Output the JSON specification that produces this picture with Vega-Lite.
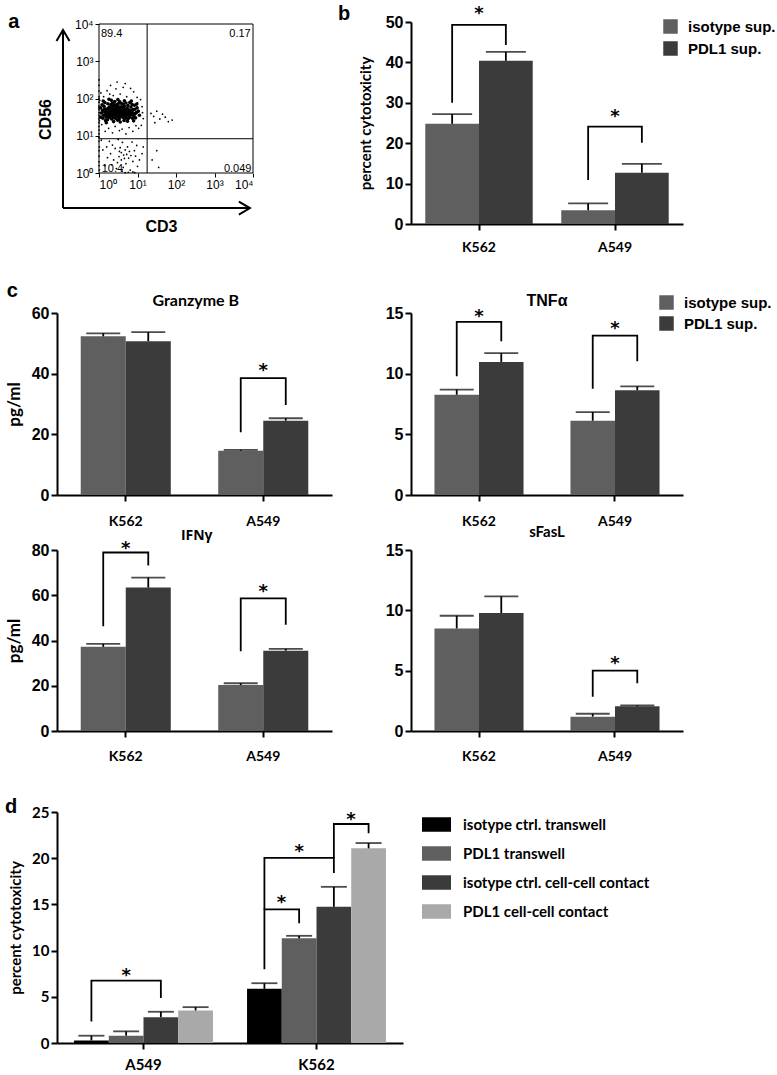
{
 "$schema": "https://vega.github.io/schema/vega-lite/v6.json",
 "background": "white",
 "padding": {"left": 5, "top": 3, "right": 5, "bottom": 5},
 "columns": 2,
 "bounds": "flush",
 "spacing": {"row": 55, "column": 8},
 "resolve": {"scale": {"color": "independent", "xOffset": "independent"}},
 "config": {
  "view": {"stroke": null},
  "axis": {"domainColor": "#000", "domainWidth": 2, "tickColor": "#000", "tickWidth": 2, "tickSize": 6, "labelColor": "#000", "titleColor": "#000", "grid": false, "labelFont": "Liberation Sans", "labelFontWeight": "bold", "labelFontSize": 16, "titleFont": "Lato", "titleFontWeight": "bold", "titleFontSize": 15, "labelPadding": 2},
  "axisX": {"labelFont": "Lato", "labelFontSize": 14, "labelAngle": 0},
  "legend": {"orient": "none", "padding": 0, "labelColor": "#000", "labelFontWeight": "bold", "symbolStrokeWidth": 0, "labelLimit": 400}
 },
 "datasets": {
  "flow_core": [{"x":0.12,"y":1.55},{"x":0.18,"y":1.72},{"x":0.25,"y":1.61},{"x":0.31,"y":1.84},{"x":0.38,"y":1.49},{"x":0.44,"y":1.67},{"x":0.51,"y":1.78},{"x":0.57,"y":1.58},{"x":0.63,"y":1.69},{"x":0.69,"y":1.52},
{"x":0.75,"y":1.81},{"x":0.81,"y":1.63},{"x":0.87,"y":1.47},{"x":0.93,"y":1.71},{"x":0.15,"y":1.89},{"x":0.22,"y":1.43},{"x":0.29,"y":1.66},{"x":0.35,"y":1.57},{"x":0.41,"y":1.92},{"x":0.47,"y":1.51},
{"x":0.53,"y":1.63},{"x":0.59,"y":1.86},{"x":0.65,"y":1.41},{"x":0.71,"y":1.64},{"x":0.77,"y":1.55},{"x":0.83,"y":1.77},{"x":0.89,"y":1.59},{"x":0.97,"y":1.62},{"x":0.09,"y":1.68},{"x":0.2,"y":1.58},
{"x":0.27,"y":1.77},{"x":0.33,"y":1.45},{"x":0.39,"y":1.71},{"x":0.46,"y":1.83},{"x":0.52,"y":1.44},{"x":0.58,"y":1.69},{"x":0.64,"y":1.57},{"x":0.7,"y":1.88},{"x":0.76,"y":1.46},{"x":0.82,"y":1.68},
{"x":0.06,"y":1.61},{"x":0.13,"y":1.79},{"x":0.19,"y":1.5},{"x":0.26,"y":1.69},{"x":0.32,"y":1.95},{"x":0.37,"y":1.62},{"x":0.43,"y":1.54},{"x":0.49,"y":1.74},{"x":0.55,"y":1.53},{"x":0.61,"y":1.76},
{"x":0.67,"y":1.61},{"x":0.73,"y":1.73},{"x":0.79,"y":1.5},{"x":0.86,"y":1.84},{"x":0.91,"y":1.53},{"x":0.99,"y":1.75},{"x":0.1,"y":1.47},{"x":0.16,"y":1.64},{"x":0.23,"y":1.86},{"x":0.3,"y":1.53},
{"x":0.36,"y":1.79},{"x":0.42,"y":1.6},{"x":0.48,"y":1.42},{"x":0.54,"y":1.91},{"x":0.6,"y":1.62},{"x":0.66,"y":1.79},{"x":0.72,"y":1.56},{"x":0.78,"y":1.67},{"x":0.85,"y":1.56},{"x":0.92,"y":1.82},
{"x":0.04,"y":1.75},{"x":0.11,"y":1.93},{"x":0.17,"y":1.41},{"x":0.24,"y":1.54},{"x":0.34,"y":1.68},{"x":0.4,"y":1.83},{"x":0.45,"y":1.59},{"x":0.5,"y":1.66},{"x":0.56,"y":1.71},{"x":0.62,"y":1.49},
{"x":0.68,"y":1.7},{"x":0.74,"y":1.62},{"x":0.8,"y":1.89},{"x":0.88,"y":1.7},{"x":0.95,"y":1.48},{"x":1.02,"y":1.66},{"x":0.14,"y":1.7},{"x":0.28,"y":1.6},{"x":0.46,"y":1.73},{"x":0.57,"y":1.64},
{"x":0.21,"y":1.66},{"x":0.36,"y":1.51},{"x":0.43,"y":1.77},{"x":0.62,"y":1.68},{"x":0.7,"y":1.47},{"x":0.26,"y":1.98},{"x":0.49,"y":1.97},{"x":0.66,"y":1.94},{"x":0.84,"y":1.93},{"x":0.38,"y":1.38},
{"x":0.55,"y":1.37},{"x":0.74,"y":1.39},{"x":0.19,"y":1.35},{"x":0.9,"y":1.4},{"x":1.05,"y":1.55},{"x":0.08,"y":1.83},{"x":0.52,"y":1.56},{"x":0.4,"y":1.65},{"x":0.33,"y":1.74},{"x":0.6,"y":1.55},
{"x":0.24,"y":1.74},{"x":0.31,"y":1.62},{"x":0.47,"y":1.61},{"x":0.58,"y":1.78},{"x":0.69,"y":1.6},{"x":0.8,"y":1.58},{"x":0.35,"y":1.88},{"x":0.63,"y":1.85},{"x":0.15,"y":1.56},{"x":0.94,"y":1.6},
{"x":0.42,"y":1.47},{"x":0.53,"y":1.49},{"x":0.75,"y":1.72},{"x":0.05,"y":1.5},{"x":0.27,"y":1.49},{"x":0.5,"y":1.86},{"x":0.86,"y":1.64},{"x":0.98,"y":1.85},{"x":0.12,"y":1.66},{"x":0.64,"y":1.63}],
  "flow_sparse": [{"x":0.05,"y":2.15},{"x":0.21,"y":2.21},{"x":0.37,"y":2.08},{"x":0.55,"y":2.12},{"x":0.72,"y":2.05},{"x":0.9,"y":2.18},{"x":1.08,"y":1.97},{"x":0.3,"y":2.35},{"x":0.63,"y":2.3},{"x":0.47,"y":2.44},
{"x":0.82,"y":2.27},{"x":1.12,"y":1.78},{"x":1.15,"y":1.46},{"x":1.1,"y":1.28},{"x":0.96,"y":1.27},{"x":0.78,"y":1.22},{"x":0.6,"y":1.18},{"x":0.42,"y":1.25},{"x":0.25,"y":1.2},{"x":0.07,"y":1.3},
{"x":0.16,"y":1.12},{"x":0.35,"y":1.08},{"x":0.53,"y":1.14},{"x":0.7,"y":1.05},{"x":0.88,"y":1.12},{"x":1.03,"y":1.2},{"x":0.12,"y":2.05},{"x":0.99,"y":2.03},{"x":0.44,"y":2.26},{"x":0.68,"y":2.4},
{"x":0.28,"y":2.12},{"x":1.0,"y":1.88},{"x":1.13,"y":1.62},{"x":0.02,"y":1.95},{"x":0.01,"y":1.4},
{"x":0.0,"y":0.2},{"x":0.0,"y":0.45},{"x":0.01,"y":0.7},{"x":0.0,"y":0.95},{"x":0.0,"y":1.15},{"x":0.01,"y":1.5},{"x":0.0,"y":1.8},{"x":0.0,"y":2.05},{"x":0.0,"y":1.62},{"x":0.01,"y":0.08},
{"x":0.0,"y":0.3},{"x":0.0,"y":0.6},{"x":0.0,"y":0.85},{"x":0.0,"y":1.05},{"x":0.0,"y":1.25},{"x":0.0,"y":1.35},{"x":0.0,"y":1.45},{"x":0.0,"y":1.55},{"x":0.0,"y":1.7},{"x":0.0,"y":1.75},{"x":0.0,"y":1.9},{"x":0.0,"y":2.0},{"x":0.0,"y":2.2},{"x":0.0,"y":2.35},{"x":0.0,"y":2.5},
{"x":0.1,"y":0.62},{"x":0.22,"y":0.41},{"x":0.35,"y":0.75},{"x":0.48,"y":0.28},{"x":0.58,"y":0.55},{"x":0.66,"y":0.39},{"x":0.74,"y":0.7},{"x":0.83,"y":0.47},{"x":0.92,"y":0.6},{"x":1.05,"y":0.35},
{"x":0.15,"y":0.2},{"x":0.3,"y":0.52},{"x":0.42,"y":0.66},{"x":0.52,"y":0.44},{"x":0.61,"y":0.82},{"x":0.7,"y":0.25},{"x":0.79,"y":0.58},{"x":0.88,"y":0.31},{"x":0.98,"y":0.74},{"x":1.12,"y":0.52},
{"x":0.06,"y":0.88},{"x":0.27,"y":0.85},{"x":0.45,"y":0.12},{"x":0.63,"y":0.15},{"x":0.81,"y":0.08},{"x":1.0,"y":0.18},{"x":0.38,"y":0.35},{"x":0.55,"y":0.68},{"x":0.72,"y":0.5},{"x":0.86,"y":0.83},
{"x":0.2,"y":0.7},{"x":0.5,"y":0.9},{"x":0.68,"y":0.62},{"x":0.95,"y":0.45},{"x":1.15,"y":0.7},{"x":0.33,"y":0.22},{"x":0.58,"y":0.35},{"x":0.77,"y":0.4},{"x":0.64,"y":0.48},{"x":0.53,"y":0.58},
{"x":0.6,"y":0.05},{"x":0.76,"y":0.02},{"x":0.88,"y":0.03},{"x":0.68,"y":0.01},{"x":0.93,"y":0.01},
{"x":1.35,"y":1.6},{"x":1.42,"y":1.52},{"x":1.5,"y":1.66},{"x":1.58,"y":1.45},{"x":1.65,"y":1.58},{"x":1.8,"y":1.38},{"x":1.9,"y":1.42},{"x":1.45,"y":1.35},{"x":1.72,"y":1.5},{"x":1.5,"y":0.6},{"x":1.55,"y":0.15},{"x":1.38,"y":0.35}],
  "flow_ql": [{"x":0.05,"y":3.65,"t":"89.4"},{"x":0.07,"y":0.03,"t":"10.4"}],
  "flow_qr": [{"x":3.94,"y":3.65,"t":"0.17"},{"x":3.96,"y":0.03,"t":"0.049"}],
  "b_bars": [{"g":"K562","s":"isotype sup.","v":24.8,"hi":27.2},{"g":"K562","s":"PDL1 sup.","v":40.4,"hi":42.6},{"g":"A549","s":"isotype sup.","v":3.4,"hi":5.1},{"g":"A549","s":"PDL1 sup.","v":12.7,"hi":14.9}],
  "b_br": [{"id":1,"k":0,"g":"K562","s":"isotype sup.","v":30},{"id":1,"k":1,"g":"K562","s":"isotype sup.","v":49.3},{"id":1,"k":2,"g":"K562","s":"PDL1 sup.","v":49.3},{"id":1,"k":3,"g":"K562","s":"PDL1 sup.","v":44.3},
           {"id":2,"k":0,"g":"A549","s":"isotype sup.","v":10.9},{"id":2,"k":1,"g":"A549","s":"isotype sup.","v":24.1},{"id":2,"k":2,"g":"A549","s":"PDL1 sup.","v":24.1},{"id":2,"k":3,"g":"A549","s":"PDL1 sup.","v":20.1}],
  "b_star": [{"g":"K562","v":53.2},{"g":"A549","v":27.8}],
  "gr_bars": [{"g":"K562","s":"isotype sup.","v":52.3,"hi":53.3},{"g":"K562","s":"PDL1 sup.","v":50.7,"hi":53.7},{"g":"A549","s":"isotype sup.","v":14.6,"hi":14.9},{"g":"A549","s":"PDL1 sup.","v":24.5,"hi":25.3}],
  "gr_br": [{"id":1,"k":0,"g":"A549","s":"isotype sup.","v":20.7},{"id":1,"k":1,"g":"A549","s":"isotype sup.","v":38.5},{"id":1,"k":2,"g":"A549","s":"PDL1 sup.","v":38.5},{"id":1,"k":3,"g":"A549","s":"PDL1 sup.","v":29.7}],
  "gr_star": [{"g":"A549","v":42.5}],
  "tn_bars": [{"g":"K562","s":"isotype sup.","v":8.26,"hi":8.68},{"g":"K562","s":"PDL1 sup.","v":10.97,"hi":11.69},{"g":"A549","s":"isotype sup.","v":6.12,"hi":6.83},{"g":"A549","s":"PDL1 sup.","v":8.63,"hi":8.96}],
  "tn_br": [{"id":1,"k":0,"g":"K562","s":"isotype sup.","v":9.78},{"id":1,"k":1,"g":"K562","s":"isotype sup.","v":14.27},{"id":1,"k":2,"g":"K562","s":"PDL1 sup.","v":14.27},{"id":1,"k":3,"g":"K562","s":"PDL1 sup.","v":12.68},
            {"id":2,"k":0,"g":"A549","s":"isotype sup.","v":8.76},{"id":2,"k":1,"g":"A549","s":"isotype sup.","v":13.14},{"id":2,"k":2,"g":"A549","s":"PDL1 sup.","v":13.14},{"id":2,"k":3,"g":"A549","s":"PDL1 sup.","v":11.02}],
  "tn_star": [{"g":"K562","v":15.1},{"g":"A549","v":14.1}],
  "if_bars": [{"g":"K562","s":"isotype sup.","v":37.2,"hi":38.5},{"g":"K562","s":"PDL1 sup.","v":63.4,"hi":67.8},{"g":"A549","s":"isotype sup.","v":20.3,"hi":21.1},{"g":"A549","s":"PDL1 sup.","v":35.5,"hi":36.3}],
  "if_br": [{"id":1,"k":0,"g":"K562","s":"isotype sup.","v":46.3},{"id":1,"k":1,"g":"K562","s":"isotype sup.","v":78.9},{"id":1,"k":2,"g":"K562","s":"PDL1 sup.","v":78.9},{"id":1,"k":3,"g":"K562","s":"PDL1 sup.","v":73.1},
            {"id":2,"k":0,"g":"A549","s":"isotype sup.","v":35.2},{"id":2,"k":1,"g":"A549","s":"isotype sup.","v":58.6},{"id":2,"k":2,"g":"A549","s":"PDL1 sup.","v":58.6},{"id":2,"k":3,"g":"A549","s":"PDL1 sup.","v":47}],
  "if_star": [{"g":"K562","v":82.7},{"g":"A549","v":63.5}],
  "sf_bars": [{"g":"K562","s":"isotype sup.","v":8.5,"hi":9.55},{"g":"K562","s":"PDL1 sup.","v":9.78,"hi":11.16},{"g":"A549","s":"isotype sup.","v":1.19,"hi":1.43},{"g":"A549","s":"PDL1 sup.","v":2.05,"hi":2.13}],
  "sf_br": [{"id":1,"k":0,"g":"A549","s":"isotype sup.","v":2.84},{"id":1,"k":1,"g":"A549","s":"isotype sup.","v":5.0},{"id":1,"k":2,"g":"A549","s":"PDL1 sup.","v":5.0},{"id":1,"k":3,"g":"A549","s":"PDL1 sup.","v":3.95}],
  "sf_star": [{"g":"A549","v":5.97}],
  "d_bars": [{"g":"A549","s":"isotype ctrl. transwell","v":0.28,"hi":0.79},{"g":"A549","s":"PDL1 transwell","v":0.79,"hi":1.26},{"g":"A549","s":"isotype ctrl. cell-cell contact","v":2.8,"hi":3.38},{"g":"A549","s":"PDL1 cell-cell contact","v":3.52,"hi":3.88},
             {"g":"K562","s":"isotype ctrl. transwell","v":5.86,"hi":6.47},{"g":"K562","s":"PDL1 transwell","v":11.33,"hi":11.6},{"g":"K562","s":"isotype ctrl. cell-cell contact","v":14.74,"hi":16.9},{"g":"K562","s":"PDL1 cell-cell contact","v":21.07,"hi":21.64}],
  "d_br": [{"id":1,"k":0,"g":"A549","s":"isotype ctrl. transwell","v":2.33},{"id":1,"k":1,"g":"A549","s":"isotype ctrl. transwell","v":6.75},{"id":1,"k":2,"g":"A549","s":"isotype ctrl. cell-cell contact","v":6.75},{"id":1,"k":3,"g":"A549","s":"isotype ctrl. cell-cell contact","v":4.86},
           {"id":2,"k":0,"g":"K562","s":"isotype ctrl. transwell","v":7.98},{"id":2,"k":1,"g":"K562","s":"isotype ctrl. transwell","v":14.46},{"id":2,"k":2,"g":"K562","s":"PDL1 transwell","v":14.46},{"id":2,"k":3,"g":"K562","s":"PDL1 transwell","v":12.95},
           {"id":3,"k":0,"g":"K562","s":"isotype ctrl. transwell","v":14.46},{"id":3,"k":1,"g":"K562","s":"isotype ctrl. transwell","v":20.03},{"id":3,"k":2,"g":"K562","s":"isotype ctrl. cell-cell contact","v":20.03},{"id":3,"k":3,"g":"K562","s":"isotype ctrl. cell-cell contact","v":18.4},
           {"id":4,"k":0,"g":"K562","s":"isotype ctrl. cell-cell contact","v":20.03},{"id":4,"k":1,"g":"K562","s":"isotype ctrl. cell-cell contact","v":23.7},{"id":4,"k":2,"g":"K562","s":"PDL1 cell-cell contact","v":23.7},{"id":4,"k":3,"g":"K562","s":"PDL1 cell-cell contact","v":22.7}],
  "d_star_c": [{"g":"A549","s":"PDL1 transwell","v":7.8},{"g":"K562","s":"PDL1 transwell","v":21.2}],
  "d_star_b": [{"g":"K562","s":"isotype ctrl. transwell","v":15.7},{"g":"K562","s":"isotype ctrl. cell-cell contact","v":24.7}]
 },
 "concat": [
  {
   "width": 196, "height": 236,
   "layer": [
    {"data": {"name": "flow_sparse"}, "mark": {"type": "circle", "size": 3, "color": "#000", "opacity": 1},
     "encoding": {
      "x": {"field": "x", "type": "quantitative", "scale": {"domain": [0, 4], "range": [42, 196], "nice": false, "zero": false},
            "axis": {"values": [0,1,2,3,4], "labelExpr": "'10' + ['⁰','¹','²','³','⁴'][datum.value]", "offset": -85, "domain": false, "tickSize": 4, "tickWidth": 1, "labelFont": "Liberation Sans", "labelFontWeight": "normal", "labelFontSize": 12, "labelPadding": 2, "title": "CD3", "titleFont": "Liberation Sans", "titleFontSize": 16, "titlePadding": 28, "titleX": 104}},
      "y": {"field": "y", "type": "quantitative", "scale": {"domain": [0, 4], "range": [151, 2], "nice": false, "zero": false},
            "axis": {"values": [0,1,2,3,4], "labelExpr": "'10' + ['⁰','¹','²','³','⁴'][datum.value]", "offset": -42, "domain": false, "tickSize": 4, "tickWidth": 1, "labelFont": "Liberation Sans", "labelFontWeight": "normal", "labelFontSize": 12, "labelPadding": 2, "title": "CD56", "titleFont": "Liberation Sans", "titleFontSize": 16, "titlePadding": 21, "titleY": 97}}
     }},
    {"data": {"name": "flow_core"}, "mark": {"type": "circle", "size": 13, "color": "#000", "opacity": 1},
     "encoding": {"x": {"field": "x", "type": "quantitative"}, "y": {"field": "y", "type": "quantitative"}}},
    {"data": {"values": [{}]}, "mark": {"type": "rect", "fill": "transparent", "stroke": "#000", "strokeWidth": 1},
     "encoding": {"x": {"datum": 0}, "x2": {"datum": 4}, "y": {"datum": 0}, "y2": {"datum": 4}}},
    {"data": {"values": [{}]}, "mark": {"type": "rule", "color": "#000", "strokeWidth": 1},
     "encoding": {"x": {"datum": 1.25}, "y": {"datum": 0}, "y2": {"datum": 4}}},
    {"data": {"values": [{}]}, "mark": {"type": "rule", "color": "#000", "strokeWidth": 1},
     "encoding": {"y": {"datum": 0.92}, "x": {"datum": 0}, "x2": {"datum": 4}}},
    {"data": {"name": "flow_ql"}, "mark": {"type": "text", "align": "left", "baseline": "alphabetic", "font": "Liberation Sans", "fontSize": 11, "color": "#000"},
     "encoding": {"x": {"field": "x", "type": "quantitative"}, "y": {"field": "y", "type": "quantitative"}, "text": {"field": "t"}}},
    {"data": {"name": "flow_qr"}, "mark": {"type": "text", "align": "right", "baseline": "alphabetic", "font": "Liberation Sans", "fontSize": 11, "color": "#000"},
     "encoding": {"x": {"field": "x", "type": "quantitative"}, "y": {"field": "y", "type": "quantitative"}, "text": {"field": "t"}}},
    {"data": {"values": [{}]}, "mark": {"type": "rule", "color": "#000", "strokeWidth": 2},
     "encoding": {"x": {"datum": -0.935}, "y": {"datum": -0.94}, "y2": {"datum": 3.84}}},
    {"data": {"values": [{}]}, "mark": {"type": "rule", "color": "#000", "strokeWidth": 2},
     "encoding": {"y": {"datum": -0.94}, "x": {"datum": -0.935}, "x2": {"datum": 3.92}}},
    {"data": {"values": [{}]}, "mark": {"type": "point", "shape": "M-1,1.7L0,0L1,1.7", "size": 169, "filled": false, "stroke": "#000", "strokeWidth": 2, "opacity": 1},
     "encoding": {"x": {"datum": -0.935}, "y": {"datum": 3.84}}},
    {"data": {"values": [{}]}, "mark": {"type": "point", "shape": "M-1.7,-1L0,0L-1.7,1", "size": 169, "filled": false, "stroke": "#000", "strokeWidth": 2, "opacity": 1},
     "encoding": {"x": {"datum": 3.92}, "y": {"datum": -0.94}}},
    {"data": {"values": [{}]}, "mark": {"type": "text", "text": "a", "font": "Liberation Sans", "fontSize": 20, "fontWeight": "bold", "align": "left", "baseline": "alphabetic", "color": "#000"},
     "encoding": {"x": {"datum": -2.36}, "y": {"datum": 3.89}}}
   ]
  },
  {
   "width": 272, "height": 202,
   "layer": [
    {"data": {"name": "b_bars"}, "mark": {"type": "bar"},
     "encoding": {
      "x": {"field": "g", "type": "nominal", "scale": {"domain": ["K562", "A549"], "paddingInner": 0.21, "paddingOuter": 0.105}, "axis": {"title": null, "labelPadding": 10}},
      "xOffset": {"field": "s", "type": "nominal", "scale": {"domain": ["isotype sup.", "PDL1 sup."], "paddingInner": 0, "paddingOuter": 0}},
      "y": {"field": "v", "type": "quantitative", "scale": {"domain": [0, 50], "nice": false}, "axis": {"values": [0,10,20,30,40,50], "title": "percent cytotoxicity", "titlePadding": 12}},
      "color": {"field": "s", "type": "nominal", "scale": {"domain": ["isotype sup.", "PDL1 sup."], "range": ["#5f5f5f", "#3b3b3b"]},
                "legend": {"title": null, "orient": "none", "legendX": 252, "legendY": -3, "symbolType": "square", "symbolSize": 210, "labelFont": "Liberation Sans", "labelFontSize": 15, "rowPadding": 6, "labelOffset": 10}}
     }},
    {"data": {"name": "b_bars"}, "mark": {"type": "rule", "color": "#000", "strokeWidth": 1.8},
     "encoding": {"x": {"field": "g", "type": "nominal"}, "xOffset": {"field": "s", "type": "nominal"}, "y": {"field": "v", "type": "quantitative"}, "y2": {"field": "hi"}}},
    {"data": {"name": "b_bars"}, "mark": {"type": "tick", "color": "#000", "thickness": 1.8, "size": 40},
     "encoding": {"x": {"field": "g", "type": "nominal"}, "xOffset": {"field": "s", "type": "nominal"}, "y": {"field": "hi", "type": "quantitative"}}},
    {"data": {"name": "b_br"}, "mark": {"type": "line", "color": "#000", "strokeWidth": 1.8},
     "encoding": {"x": {"field": "g", "type": "nominal"}, "xOffset": {"field": "s", "type": "nominal"}, "y": {"field": "v", "type": "quantitative"}, "detail": {"field": "id"}, "order": {"field": "k"}}},
    {"data": {"name": "b_star"}, "mark": {"type": "text", "text": "*", "font": "DejaVu Sans", "fontSize": 18, "fontWeight": "bold", "baseline": "alphabetic", "dy": 10, "color": "#000"},
     "encoding": {"x": {"field": "g", "type": "nominal"}, "y": {"field": "v", "type": "quantitative"}}},
    {"data": {"values": [{}]}, "mark": {"type": "text", "text": "b", "font": "Liberation Sans", "fontSize": 20, "fontWeight": "bold", "align": "left", "baseline": "alphabetic", "dx": -141, "color": "#000"},
     "encoding": {"x": {"datum": "K562"}, "y": {"datum": 50.5}}}
   ]
  },
  {
   "width": 275, "height": 182,
   "layer": [
    {"data": {"name": "gr_bars"}, "mark": {"type": "bar"},
     "encoding": {
      "x": {"field": "g", "type": "nominal", "scale": {"domain": ["K562", "A549"], "paddingInner": 0.345, "paddingOuter": 0.1725}, "axis": {"title": null, "labelPadding": 13}},
      "xOffset": {"field": "s", "type": "nominal", "scale": {"domain": ["isotype sup.", "PDL1 sup."], "paddingInner": 0, "paddingOuter": 0}},
      "y": {"field": "v", "type": "quantitative", "scale": {"domain": [0, 60], "nice": false}, "axis": {"values": [0,20,40,60], "title": "pg/ml", "titleFontSize": 17, "titlePadding": 8}},
      "color": {"field": "s", "type": "nominal", "scale": {"domain": ["isotype sup.", "PDL1 sup."], "range": ["#5f5f5f", "#3b3b3b"]}, "legend": null}
     }},
    {"data": {"name": "gr_bars"}, "mark": {"type": "rule", "color": "#000", "strokeWidth": 1.8},
     "encoding": {"x": {"field": "g", "type": "nominal"}, "xOffset": {"field": "s", "type": "nominal"}, "y": {"field": "v", "type": "quantitative"}, "y2": {"field": "hi"}}},
    {"data": {"name": "gr_bars"}, "mark": {"type": "tick", "color": "#000", "thickness": 1.8, "size": 34},
     "encoding": {"x": {"field": "g", "type": "nominal"}, "xOffset": {"field": "s", "type": "nominal"}, "y": {"field": "hi", "type": "quantitative"}}},
    {"data": {"name": "gr_br"}, "mark": {"type": "line", "color": "#000", "strokeWidth": 1.8},
     "encoding": {"x": {"field": "g", "type": "nominal"}, "xOffset": {"field": "s", "type": "nominal"}, "y": {"field": "v", "type": "quantitative"}, "detail": {"field": "id"}, "order": {"field": "k"}}},
    {"data": {"name": "gr_star"}, "mark": {"type": "text", "text": "*", "font": "DejaVu Sans", "fontSize": 18, "fontWeight": "bold", "baseline": "alphabetic", "dy": 10, "color": "#000"},
     "encoding": {"x": {"field": "g", "type": "nominal"}, "y": {"field": "v", "type": "quantitative"}}},
    {"data": {"values": [{}]}, "mark": {"type": "text", "text": "c", "font": "Liberation Sans", "fontSize": 20, "fontWeight": "bold", "align": "left", "baseline": "alphabetic", "dx": -119, "color": "#000"},
     "encoding": {"x": {"datum": "K562"}, "y": {"datum": 65.3}}},
    {"data": {"values": [{}]}, "mark": {"type": "text", "text": "Granzyme B", "font": "Lato", "fontSize": 16, "fontWeight": "bold", "align": "center", "baseline": "alphabetic", "dx": 70, "color": "#000"},
     "encoding": {"x": {"datum": "K562"}, "y": {"datum": 62.3}}}
   ]
  },
  {
   "width": 272, "height": 182,
   "layer": [
    {"data": {"name": "tn_bars"}, "mark": {"type": "bar"},
     "encoding": {
      "x": {"field": "g", "type": "nominal", "scale": {"domain": ["K562", "A549"], "paddingInner": 0.345, "paddingOuter": 0.1725}, "axis": {"title": null, "labelPadding": 13}},
      "xOffset": {"field": "s", "type": "nominal", "scale": {"domain": ["isotype sup.", "PDL1 sup."], "paddingInner": 0, "paddingOuter": 0}},
      "y": {"field": "v", "type": "quantitative", "scale": {"domain": [0, 15], "nice": false}, "axis": {"values": [0,5,10,15], "title": null}},
      "color": {"field": "s", "type": "nominal", "scale": {"domain": ["isotype sup.", "PDL1 sup."], "range": ["#5f5f5f", "#3b3b3b"]},
                "legend": {"title": null, "orient": "none", "legendX": 248, "legendY": -18, "symbolType": "square", "symbolSize": 210, "labelFont": "Liberation Sans", "labelFontSize": 15, "rowPadding": 5, "labelOffset": 10}}
     }},
    {"data": {"name": "tn_bars"}, "mark": {"type": "rule", "color": "#000", "strokeWidth": 1.8},
     "encoding": {"x": {"field": "g", "type": "nominal"}, "xOffset": {"field": "s", "type": "nominal"}, "y": {"field": "v", "type": "quantitative"}, "y2": {"field": "hi"}}},
    {"data": {"name": "tn_bars"}, "mark": {"type": "tick", "color": "#000", "thickness": 1.8, "size": 34},
     "encoding": {"x": {"field": "g", "type": "nominal"}, "xOffset": {"field": "s", "type": "nominal"}, "y": {"field": "hi", "type": "quantitative"}}},
    {"data": {"name": "tn_br"}, "mark": {"type": "line", "color": "#000", "strokeWidth": 1.8},
     "encoding": {"x": {"field": "g", "type": "nominal"}, "xOffset": {"field": "s", "type": "nominal"}, "y": {"field": "v", "type": "quantitative"}, "detail": {"field": "id"}, "order": {"field": "k"}}},
    {"data": {"name": "tn_star"}, "mark": {"type": "text", "text": "*", "font": "DejaVu Sans", "fontSize": 18, "fontWeight": "bold", "baseline": "alphabetic", "dy": 10, "color": "#000"},
     "encoding": {"x": {"field": "g", "type": "nominal"}, "y": {"field": "v", "type": "quantitative"}}},
    {"data": {"values": [{}]}, "mark": {"type": "text", "text": "TNFα", "font": "Liberation Sans", "fontSize": 16, "fontWeight": "bold", "align": "center", "baseline": "alphabetic", "dx": 68, "color": "#000"},
     "encoding": {"x": {"datum": "K562"}, "y": {"datum": 15.58}}}
   ]
  },
  {
   "width": 275, "height": 181,
   "layer": [
    {"data": {"name": "if_bars"}, "mark": {"type": "bar"},
     "encoding": {
      "x": {"field": "g", "type": "nominal", "scale": {"domain": ["K562", "A549"], "paddingInner": 0.345, "paddingOuter": 0.1725}, "axis": {"title": null, "labelPadding": 12}},
      "xOffset": {"field": "s", "type": "nominal", "scale": {"domain": ["isotype sup.", "PDL1 sup."], "paddingInner": 0, "paddingOuter": 0}},
      "y": {"field": "v", "type": "quantitative", "scale": {"domain": [0, 80], "nice": false}, "axis": {"values": [0,20,40,60,80], "title": "pg/ml", "titleFontSize": 17, "titlePadding": 8}},
      "color": {"field": "s", "type": "nominal", "scale": {"domain": ["isotype sup.", "PDL1 sup."], "range": ["#5f5f5f", "#3b3b3b"]}, "legend": null}
     }},
    {"data": {"name": "if_bars"}, "mark": {"type": "rule", "color": "#000", "strokeWidth": 1.8},
     "encoding": {"x": {"field": "g", "type": "nominal"}, "xOffset": {"field": "s", "type": "nominal"}, "y": {"field": "v", "type": "quantitative"}, "y2": {"field": "hi"}}},
    {"data": {"name": "if_bars"}, "mark": {"type": "tick", "color": "#000", "thickness": 1.8, "size": 34},
     "encoding": {"x": {"field": "g", "type": "nominal"}, "xOffset": {"field": "s", "type": "nominal"}, "y": {"field": "hi", "type": "quantitative"}}},
    {"data": {"name": "if_br"}, "mark": {"type": "line", "color": "#000", "strokeWidth": 1.8},
     "encoding": {"x": {"field": "g", "type": "nominal"}, "xOffset": {"field": "s", "type": "nominal"}, "y": {"field": "v", "type": "quantitative"}, "detail": {"field": "id"}, "order": {"field": "k"}}},
    {"data": {"name": "if_star"}, "mark": {"type": "text", "text": "*", "font": "DejaVu Sans", "fontSize": 18, "fontWeight": "bold", "baseline": "alphabetic", "dy": 10, "color": "#000"},
     "encoding": {"x": {"field": "g", "type": "nominal"}, "y": {"field": "v", "type": "quantitative"}}},
    {"data": {"values": [{}]}, "mark": {"type": "text", "text": "IFNγ", "font": "Open Sans", "fontSize": 14, "fontWeight": "bold", "align": "center", "baseline": "alphabetic", "dx": 71, "color": "#000"},
     "encoding": {"x": {"datum": "K562"}, "y": {"datum": 84.4}}}
   ]
  },
  {
   "width": 272, "height": 181,
   "layer": [
    {"data": {"name": "sf_bars"}, "mark": {"type": "bar"},
     "encoding": {
      "x": {"field": "g", "type": "nominal", "scale": {"domain": ["K562", "A549"], "paddingInner": 0.345, "paddingOuter": 0.1725}, "axis": {"title": null, "labelPadding": 12}},
      "xOffset": {"field": "s", "type": "nominal", "scale": {"domain": ["isotype sup.", "PDL1 sup."], "paddingInner": 0, "paddingOuter": 0}},
      "y": {"field": "v", "type": "quantitative", "scale": {"domain": [0, 15], "nice": false}, "axis": {"values": [0,5,10,15], "title": null}},
      "color": {"field": "s", "type": "nominal", "scale": {"domain": ["isotype sup.", "PDL1 sup."], "range": ["#5f5f5f", "#3b3b3b"]}, "legend": null}
     }},
    {"data": {"name": "sf_bars"}, "mark": {"type": "rule", "color": "#000", "strokeWidth": 1.8},
     "encoding": {"x": {"field": "g", "type": "nominal"}, "xOffset": {"field": "s", "type": "nominal"}, "y": {"field": "v", "type": "quantitative"}, "y2": {"field": "hi"}}},
    {"data": {"name": "sf_bars"}, "mark": {"type": "tick", "color": "#000", "thickness": 1.8, "size": 34},
     "encoding": {"x": {"field": "g", "type": "nominal"}, "xOffset": {"field": "s", "type": "nominal"}, "y": {"field": "hi", "type": "quantitative"}}},
    {"data": {"name": "sf_br"}, "mark": {"type": "line", "color": "#000", "strokeWidth": 1.8},
     "encoding": {"x": {"field": "g", "type": "nominal"}, "xOffset": {"field": "s", "type": "nominal"}, "y": {"field": "v", "type": "quantitative"}, "detail": {"field": "id"}, "order": {"field": "k"}}},
    {"data": {"name": "sf_star"}, "mark": {"type": "text", "text": "*", "font": "DejaVu Sans", "fontSize": 18, "fontWeight": "bold", "baseline": "alphabetic", "dy": 10, "color": "#000"},
     "encoding": {"x": {"field": "g", "type": "nominal"}, "y": {"field": "v", "type": "quantitative"}}},
    {"data": {"values": [{}]}, "mark": {"type": "text", "text": "sFasL", "font": "Lato", "fontSize": 15, "fontWeight": "bold", "align": "center", "baseline": "alphabetic", "dx": 68, "color": "#000"},
     "encoding": {"x": {"datum": "K562"}, "y": {"datum": 16.07}}}
   ]
  },
  {
   "width": 346, "height": 257,
   "layer": [
    {"data": {"name": "d_bars"}, "mark": {"type": "bar"},
     "encoding": {
      "x": {"field": "g", "type": "nominal", "scale": {"domain": ["A549", "K562"], "paddingInner": 0.197, "paddingOuter": 0.0985}, "axis": {"title": null, "labelPadding": 8, "labelFontSize": 15}},
      "xOffset": {"field": "s", "type": "nominal", "scale": {"domain": ["isotype ctrl. transwell", "PDL1 transwell", "isotype ctrl. cell-cell contact", "PDL1 cell-cell contact"], "paddingInner": 0, "paddingOuter": 0}},
      "y": {"field": "v", "type": "quantitative", "scale": {"domain": [0, 25], "range": [257, 26], "nice": false}, "axis": {"values": [0,5,10,15,20,25], "title": "percent cytotoxicity", "titlePadding": 8, "labelFont": "Lato", "labelFontSize": 15}},
      "color": {"field": "s", "type": "nominal", "scale": {"domain": ["isotype ctrl. transwell", "PDL1 transwell", "isotype ctrl. cell-cell contact", "PDL1 cell-cell contact"], "range": ["#000000", "#5f5f5f", "#3b3b3b", "#a9a9a9"]},
                "legend": {"title": null, "orient": "none", "legendX": 365, "legendY": 24, "symbolType": "M-1,-0.5H1V0.5H-1Z", "symbolSize": 841, "labelFont": "Lato", "labelFontSize": 15, "rowPadding": 6, "labelOffset": 12}}
     }},
    {"data": {"name": "d_bars"}, "mark": {"type": "rule", "color": "#000", "strokeWidth": 1.8},
     "encoding": {"x": {"field": "g", "type": "nominal"}, "xOffset": {"field": "s", "type": "nominal"}, "y": {"field": "v", "type": "quantitative"}, "y2": {"field": "hi"}}},
    {"data": {"name": "d_bars"}, "mark": {"type": "tick", "color": "#000", "thickness": 1.8, "size": 26},
     "encoding": {"x": {"field": "g", "type": "nominal"}, "xOffset": {"field": "s", "type": "nominal"}, "y": {"field": "hi", "type": "quantitative"}}},
    {"data": {"name": "d_br"}, "mark": {"type": "line", "color": "#000", "strokeWidth": 1.8},
     "encoding": {"x": {"field": "g", "type": "nominal"}, "xOffset": {"field": "s", "type": "nominal"}, "y": {"field": "v", "type": "quantitative"}, "detail": {"field": "id"}, "order": {"field": "k"}}},
    {"data": {"name": "d_star_c"}, "mark": {"type": "text", "text": "*", "font": "DejaVu Sans", "fontSize": 18, "fontWeight": "bold", "baseline": "alphabetic", "dy": 10, "color": "#000"},
     "encoding": {"x": {"field": "g", "type": "nominal"}, "xOffset": {"field": "s", "type": "nominal"}, "y": {"field": "v", "type": "quantitative"}}},
    {"data": {"name": "d_star_b"}, "mark": {"type": "text", "text": "*", "font": "DejaVu Sans", "fontSize": 18, "fontWeight": "bold", "baseline": "alphabetic", "dy": 10, "dx": 17, "color": "#000"},
     "encoding": {"x": {"field": "g", "type": "nominal"}, "xOffset": {"field": "s", "type": "nominal"}, "y": {"field": "v", "type": "quantitative"}}},
    {"data": {"values": [{}]}, "mark": {"type": "text", "text": "d", "font": "Liberation Sans", "fontSize": 20, "fontWeight": "bold", "align": "left", "baseline": "alphabetic", "dx": -138.5, "color": "#000"},
     "encoding": {"x": {"datum": "A549"}, "y": {"datum": 24.9}}}
   ]
  }
 ]
}
